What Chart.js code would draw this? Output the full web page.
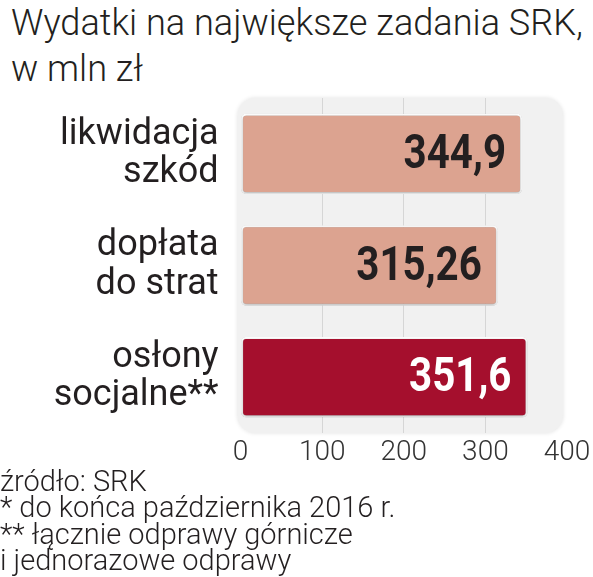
<!DOCTYPE html>
<html>
<head>
<meta charset="utf-8">
<script src="https://cdn.jsdelivr.net/npm/chart.js@4.4.1/dist/chart.umd.min.js"></script>
<style>
  html, body { margin: 0; padding: 0; background: #fff; }
  body { width: 593px; height: 577px; position: relative; overflow: hidden; font-family: Roboto, "Liberation Sans", sans-serif; color: #231f20; }
  #title { position: absolute; left: 11px; top: 0px; font-size: 37px; font-weight: 300; line-height: 46px; white-space: nowrap; transform-origin: left top; }
  #chartBox { position: absolute; left: 0; top: 90px; width: 593px; height: 380px; }
  #notes { position: absolute; left: 0; top: 468px; font-size: 29px; font-weight: 300; line-height: 26.3px; white-space: nowrap; }
</style>
</head>
<body>
<div id="title">Wydatki na największe zadania SRK,<br>w mln zł</div>
<div id="chartBox"><canvas id="chart" width="593" height="380"></canvas></div>
<div id="notes">źródło: SRK<br>* do końca października 2016 r.<br>** łącznie odprawy górnicze<br>i jednorazowe odprawy</div>
<script>
const categories = [["likwidacja", "szkód"], ["dopłata", "do strat"], ["osłony", "socjalne**"]];
const values = [344.9, 315.26, 351.6];
const valueLabels = ["344,9", "315,26", "351,6"];
const barColors = ["#dca390", "#dca390", "#a50f2d"];
const labelColors = ["#231f20", "#231f20", "#ffffff"];
const xTicks = [0, 100, 200, 300, 400];

// squeeze html text to the width of the original lettering
function fitWidth(id, target) {
    const el = document.getElementById(id);
    const w = el.scrollWidth;
    if (w > 0) el.style.transform = `scaleX(${target / w})`;
}

const panelPlugin = {
    id: "panel",
    beforeDraw(chart) {
        const { ctx, chartArea } = chart;
        const x = chartArea.left - 3;
        const w = 563 - x;
        ctx.save();
        ctx.shadowColor = "rgba(0,0,0,0.12)";
        ctx.shadowBlur = 4;
        ctx.fillStyle = "#f1f1f1";
        ctx.beginPath();
        ctx.roundRect(x, chartArea.top, w, chartArea.bottom - chartArea.top, 18);
        ctx.fill();
        ctx.restore();
    },
    beforeDatasetDraw(chart) {
        const ctx = chart.ctx;
        ctx.save();
        ctx.shadowColor = "rgba(0,0,0,0.35)";
        ctx.shadowBlur = 3;
        ctx.shadowOffsetY = 1;
    },
    afterDatasetDraw(chart) {
        chart.ctx.restore();
    },
    afterDatasetsDraw(chart) {
        const ctx = chart.ctx;
        const bars = chart.getDatasetMeta(0).data;
        bars.forEach((bar, i) => {
            ctx.save();
            ctx.translate(bar.x - 16, bar.y + 2);
            ctx.scale(0.84, 1);
            ctx.font = "bold 48px Roboto";
            ctx.fillStyle = labelColors[i];
            ctx.textAlign = "right";
            ctx.textBaseline = "middle";
            ctx.fillText(valueLabels[i], 0, 0);
            ctx.restore();
        });
    }
};

new Chart(document.getElementById("chart"), {
    type: "bar",
    data: {
        labels: categories,
        datasets: [{
            data: values,
            backgroundColor: barColors,
            borderColor: "#ffffff",
            borderWidth: 2,
            borderRadius: 5,
            borderSkipped: false,
            categoryPercentage: 1,
            barPercentage: 0.72
        }]
    },
    options: {
        indexAxis: "y",
        responsive: false,
        animation: false,
        events: [],
        layout: { padding: { top: 8, right: 26, left: 0, bottom: 0 } },
        plugins: { legend: { display: false }, tooltip: { enabled: false } },
        scales: {
            x: {
                min: 0,
                max: 400,
                afterBuildTicks(scale) { scale.ticks = xTicks.map(v => ({ value: v })); },
                afterFit(scale) {
                    scale.height = 37;
                    scale.paddingLeft = 0;
                    scale.paddingRight = 0;
                },
                border: { display: false },
                grid: {
                    drawTicks: false,
                    lineWidth: 1,
                    color: ctx => (ctx.tick && (ctx.tick.value === 0 || ctx.tick.value === 400)) ? "rgba(0,0,0,0)" : "#d6d6d6"
                },
                ticks: {
                    padding: 3,
                    color: "#333333",
                    font: { family: "Roboto", size: 28, weight: 300 }
                }
            },
            y: {
                afterFit(scale) {
                    scale.width = 240.6;
                    scale.paddingTop = 0;
                    scale.paddingBottom = 0;
                },
                border: { display: false },
                grid: { display: false, drawTicks: false },
                ticks: {
                    padding: 22,
                    color: "#231f20",
                    font: { family: "Roboto", size: 36, weight: 400, lineHeight: 1.07 }
                }
            }
        }
    },
    plugins: [panelPlugin]
});

fitWidth("title", 572);
</script>
</body>
</html>
